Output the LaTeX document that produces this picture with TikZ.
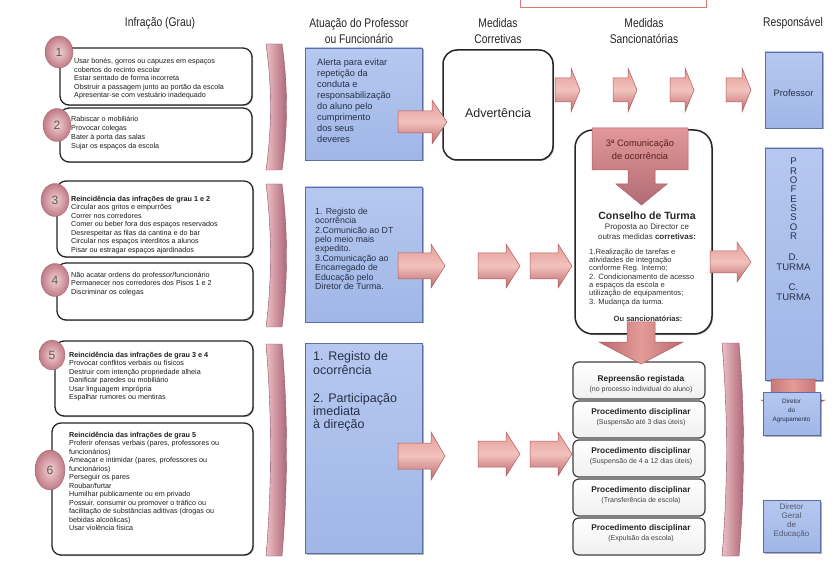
\documentclass[tikz,border=0pt]{standalone}
\usepackage{fontspec}
\setmainfont{Liberation Sans}
\newfontfamily\narrowf[FakeStretch=0.82]{Liberation Sans}
\usetikzlibrary{shadows,shapes.geometric}
\definecolor{pkL}{RGB}{242,194,188}
\definecolor{pkM}{RGB}{228,156,152}
\definecolor{pkD}{RGB}{186,104,108}
\definecolor{pkE}{RGB}{176,90,94}
\definecolor{brL}{RGB}{236,192,198}
\definecolor{brD}{RGB}{170,96,116}
\definecolor{blT}{RGB}{182,200,240}
\definecolor{blB}{RGB}{160,182,230}
\definecolor{blE}{RGB}{90,110,165}
\definecolor{txB}{RGB}{38,48,72}
\definecolor{txD}{RGB}{28,28,28}
\definecolor{cirI}{RGB}{242,210,210}
\definecolor{cirO}{RGB}{192,122,134}
\definecolor{topR}{RGB}{214,122,112}
\newcommand{\rarr}[6]{\path[parrow] (#1,#3-#4) -- (#2-#6,#3-#4) -- (#2-#6,#3-#5) -- (#2,#3) -- (#2-#6,#3+#5) -- (#2-#6,#3+#4) -- (#1,#3+#4) -- cycle;}
\newcommand{\darr}[6]{\path[dparrow] (#3-#4,#1) -- (#3-#4,#2-#6) -- (#3-#5,#2-#6) -- (#3,#2) -- (#3+#5,#2-#6) -- (#3+#4,#2-#6) -- (#3+#4,#1) -- cycle;}
\begin{document}
\begin{tikzpicture}[x=1pt,y=-1pt,
  hdr/.style={font=\narrowf\fontsize{12.6}{15.5}\selectfont, text=black!85, align=center, inner sep=0pt},
  lbox/.style={draw=black!85, line width=1.3pt, fill=white, rounded corners=9pt, inner sep=0pt,
     drop shadow={shadow xshift=1pt, shadow yshift=-1pt, fill=black!60, opacity=.5}},
  ltxt/.style={anchor=north west, inner sep=0pt, align=left, text=txD, font=\fontsize{7.2}{8.5}\selectfont},
  numc/.style={ellipse, inner sep=0pt, inner color=cirI, outer color=cirO, draw=cirO!80!black, line width=0.3pt,
     font=\fontsize{12}{12}\selectfont, text=black!65},
  bbox/.style={draw=blE, line width=0.6pt, top color=blT, bottom color=blB, inner sep=0pt,
     drop shadow={shadow xshift=1.5pt, shadow yshift=-1.5pt, fill=black, opacity=.3}},
  btxt/.style={anchor=north west, inner sep=0pt, align=left, text=txB},
  wbox/.style={draw=black!85, line width=1.5pt, fill=white, inner sep=0pt,
     drop shadow={shadow xshift=1pt, shadow yshift=-1pt, fill=black!60, opacity=.5}},
  sbox/.style={draw=black!75, line width=1.2pt, top color=white, bottom color=black!6, rounded corners=6pt, inner sep=0pt,
     minimum width=132pt, minimum height=37pt},
  stit/.style={inner sep=0pt, font=\bfseries\fontsize{8.3}{9}\selectfont, text=black!85},
  ssub/.style={inner sep=0pt, font=\fontsize{7}{8}\selectfont, text=black!75},
  parrow/.style={draw=pkE, line width=0.5pt, top color=pkM, bottom color=pkD, middle color=pkL},
  dparrow/.style={draw=pkE, line width=0.5pt, left color=pkD, right color=pkD, middle color=pkM},
  bracket/.style={draw=brD!85!black, line width=0.4pt, left color=brL, right color=brD},
  rtxt/.style={inner sep=0pt, align=center, text=txB}
]
\useasboundingbox (0,0) rectangle (838,561);
\fill[white] (0,0) rectangle (838,561);

% partially visible box at the top
\draw[topR, line width=0.8pt, fill=white] (520,-10) rectangle (706,7);

% headers
\node[hdr] (hInf) at (160,23) {Infração (Grau)};
\node[hdr] (hAt) at (359,31) {Atuação do Professor\\ou Funcionário};
\node[hdr] (hMC) at (498,31) {Medidas\\Corretivas};
\node[hdr] (hMS) at (644,31) {Medidas\\Sancionatórias};
\node[hdr] (hR) at (793,23) {Responsável};

% left boxes
\node[lbox, minimum width=192pt, minimum height=57pt] (b1) at (156,76.5) {};
\node[lbox, minimum width=192pt, minimum height=54pt] (b2) at (156,135) {};
\node[lbox, minimum width=196pt, minimum height=76pt] (b3) at (155,219) {};
\node[lbox, minimum width=196pt, minimum height=57pt] (b4) at (155,291.5) {};
\node[lbox, minimum width=198pt, minimum height=75pt] (b5) at (154,378.5) {};
\node[lbox, minimum width=201pt, minimum height=132pt] (b6) at (152.5,489) {};

% number circles
\node[numc, minimum width=28pt, minimum height=32pt] (c1) at (59,52) {1};
\node[numc, minimum width=28pt, minimum height=33pt] (c2) at (57,125) {2};
\node[numc, minimum width=28pt, minimum height=33pt] (c3) at (55,200) {3};
\node[numc, minimum width=28pt, minimum height=33pt] (c4) at (55,280) {4};
\node[numc, minimum width=26pt, minimum height=30pt] (c5) at (52,355) {5};
\node[numc, minimum width=30pt, minimum height=40pt] (c6) at (50,470) {6};

% left texts
\node[ltxt] (t1) at (74,58.5) {Usar bonés, gorros ou capuzes em espaços\\cobertos do recinto escolar\\Estar sentado de forma incorreta\\Obstruir a passagem junto ao portão da escola\\Apresentar-se com vestuário inadequado};
\node[ltxt, font=\fontsize{7.2}{9}\selectfont] (t2) at (71,116.5) {Rabiscar o mobiliário\\Provocar colegas\\Bater à porta das salas\\Sujar os espaços da escola};
\node[ltxt] (t3) at (71,195.5) {\textbf{Reincidência das infrações de grau 1 e 2}\\Circular aos gritos e empurrões\\Correr nos corredores\\Comer ou beber fora dos espaços reservados\\Desrespeitar as filas da cantina e do bar\\Circular nos espaços interditos a alunos\\Pisar ou estragar espaços ajardinados};
\node[ltxt] (t4) at (71,271.5) {Não acatar ordens do professor/funcionário\\Permanecer nos corredores dos Pisos 1 e 2\\Discriminar os colegas};
\node[ltxt] (t5) at (69,351.5) {\textbf{Reincidência das infrações de grau 3 e 4}\\Provocar conflitos verbais ou físicos\\Destruir com intenção propriedade alheia\\Danificar paredes ou mobiliário\\Usar linguagem imprópria\\Espalhar rumores ou mentiras};
\node[ltxt] (t6) at (69,431.5) {\textbf{Reincidência das infrações de grau 5}\\Proferir ofensas verbais (pares, professores ou\\funcionários)\\Ameaçar e intimidar (pares, professores ou\\funcionários)\\Perseguir os pares\\Roubar/furtar\\Humilhar publicamente ou em privado\\Possuir, consumir ou promover o tráfico ou\\facilitação de substâncias aditivas (drogas ou\\bebidas alcoólicas)\\Usar violência física};

% brackets
\path[bracket] (266,44) .. controls (272,86) and (272,128) .. (266,170) -- (282,170) .. controls (288,128) and (288,86) .. (282,44) -- cycle;
\path[bracket] (266,184) .. controls (272,232) and (272,280) .. (266,327) -- (282,327) .. controls (288,280) and (288,232) .. (282,184) -- cycle;
\path[bracket] (266,344) .. controls (272,414) and (272,486) .. (266,556) -- (282,556) .. controls (288,486) and (288,414) .. (282,344) -- cycle;
\path[bracket] (722,343) .. controls (728,414) and (728,485) .. (722,556) -- (739,556) .. controls (745,485) and (745,414) .. (739,343) -- cycle;

% blue action boxes
\node[bbox, minimum width=117pt, minimum height=112pt] (p1) at (363.5,104) {};
\node[bbox, minimum width=117pt, minimum height=135pt] (p2) at (363.5,254.5) {};
\node[bbox, minimum width=117pt, minimum height=210pt] (p3) at (363.5,448) {};
\node[btxt, font=\fontsize{9.2}{11}\selectfont] (pt1) at (317,59) {Alerta para evitar\\repetição da\\conduta e\\responsabilização\\do aluno pelo\\cumprimento\\dos seus\\deveres};
\node[btxt, font=\fontsize{8.8}{9.35}\selectfont] (pt2) at (315,208) {1. Registo de\\ocorrência\\2.Comunicão ao DT\\pelo meio mais\\expedito.\\3.Comunicação ao\\Encarregado de\\Educação pelo\\Diretor de Turma.};
\node[btxt, font=\fontsize{12.5}{13.4}\selectfont] (pt3) at (313,351.5) {1. Registo de\\ocorrência\\[14.5pt]2. Participação\\imediata\\à direção};

% Advertencia
\node[wbox, rounded corners=14pt, minimum width=110pt, minimum height=110pt] (adv) at (498,105) {};
\node[inner sep=0pt, font=\fontsize{12.5}{13}\selectfont, text=black!85] (advt) at (498,113) {Advertência};

% Conselho de Turma
\node[wbox, rounded corners=18pt, minimum width=137pt, minimum height=204pt] (ct) at (643.5,232) {};
\path[top color={rgb,255:red,226;green,152;blue,152}, bottom color={rgb,255:red,176;green,108;blue,116}, draw=pkE, line width=0.5pt]
  (592,128) -- (688,128) -- (688,170) -- (655,170) -- (655,184) -- (667,184) -- (641.5,205) -- (616,184) -- (628,184) -- (628,170) -- (592,170) -- cycle;
\node[inner sep=0pt, align=center, font=\fontsize{9.3}{13}\selectfont, text={rgb,255:red,90;green,30;blue,30}] (cm) at (640,150) {3ª Comunicação\\de ocorrência};
\node[inner sep=0pt, font=\bfseries\fontsize{10.5}{11}\selectfont, text=black!85] (ctt) at (647,216) {Conselho de Turma};
\node[inner sep=0pt, align=center, font=\fontsize{8}{10}\selectfont, text=black!80] (ctp) at (647,232) {Proposta ao Director ce\\outras medidas \textbf{corretivas:}};
\node[anchor=north west, inner sep=0pt, align=left, font=\fontsize{7.6}{8.35}\selectfont, text=black!80] (ctl) at (589,248.5) {1.Realização de tarefas e\\atividades de integração\\conforme Reg. Interno;\\2. Condicionamento de acesso\\a espaços da escola e\\utilização de equipamentos;\\3. Mudança da turma.};
\node[inner sep=0pt, font=\bfseries\fontsize{7.6}{8}\selectfont, text=black!80] (cts) at (648,319) {Ou sancionatórias:};

% sanction boxes
\node[sbox] (s1) at (639,380.5) {};
\node[sbox] (s2) at (639,419.5) {};
\node[sbox] (s3) at (639,458.5) {};
\node[sbox] (s4) at (639,497.5) {};
\node[sbox] (s5) at (639,536.5) {};
\node[stit] at (641,379) {Repreensão registada};
\node[ssub] at (641,390) {(no processo individual do aluno)};
\node[stit] at (641,412) {Procedimento disciplinar};
\node[ssub] at (641,423) {(Suspensão até 3 dias úteis)};
\node[stit] at (641,451) {Procedimento disciplinar};
\node[ssub] at (641,462) {(Suspensão de 4 a 12 dias úteis)};
\node[stit] at (641,490) {Procedimento disciplinar};
\node[ssub] at (641,501) {(Transferência de escola)};
\node[stit] at (641,528) {Procedimento disciplinar};
\node[ssub] at (641,539) {(Expulsão da escola)};

% down arrow from Conselho to sanctions
\darr{322}{364}{641}{14}{42}{22}

% responsible boxes
\node[bbox, minimum width=57pt, minimum height=76pt] (r1) at (793.5,90) {};
\node[rtxt, font=\fontsize{9.3}{10}\selectfont] (r1t) at (793.5,93) {Professor};
\node[bbox, minimum width=57pt, minimum height=232pt] (r2) at (793.5,264) {};
\darr{379}{414}{793}{22}{32}{14}
\node[rtxt, anchor=north, font=\fontsize{9.6}{9.35}\selectfont] (r2t) at (793.5,158) {P\\R\\O\\F\\E\\S\\S\\O\\R\\[12pt]D.\\TURMA\\[11pt]C.\\TURMA};
\node[bbox, minimum width=57pt, minimum height=43pt] (r3) at (791.5,413.5) {};
\node[rtxt, font=\fontsize{6.3}{9}\selectfont] (r3t) at (791.5,411) {Diretor\\do\\Agrupamento};
\node[bbox, minimum width=57pt, minimum height=52pt] (r4) at (791.5,526) {};
\node[rtxt, font=\fontsize{8}{9}\selectfont, text=txB!80] (r4t) at (791.5,520.5) {Diretor\\Geral\\de\\Educação};

% block arrows
\rarr{398}{447}{122}{11}{22}{15}
\rarr{555}{580}{90}{12}{22}{9}
\rarr{613}{637}{90}{12}{22}{9}
\rarr{670}{694}{90}{12}{22}{9}
\rarr{726}{751}{90}{12}{22}{9}
\rarr{398}{445}{266}{13}{22}{14}
\rarr{478}{520}{266}{13}{22}{14}
\rarr{530}{572}{266}{13}{22}{14}
\rarr{710}{751}{262}{11}{20}{14}
\rarr{398}{445}{456}{13}{24}{14}
\rarr{478}{520}{454}{13}{22}{14}
\rarr{530}{572}{454}{13}{22}{14}
\end{tikzpicture}
\end{document}
